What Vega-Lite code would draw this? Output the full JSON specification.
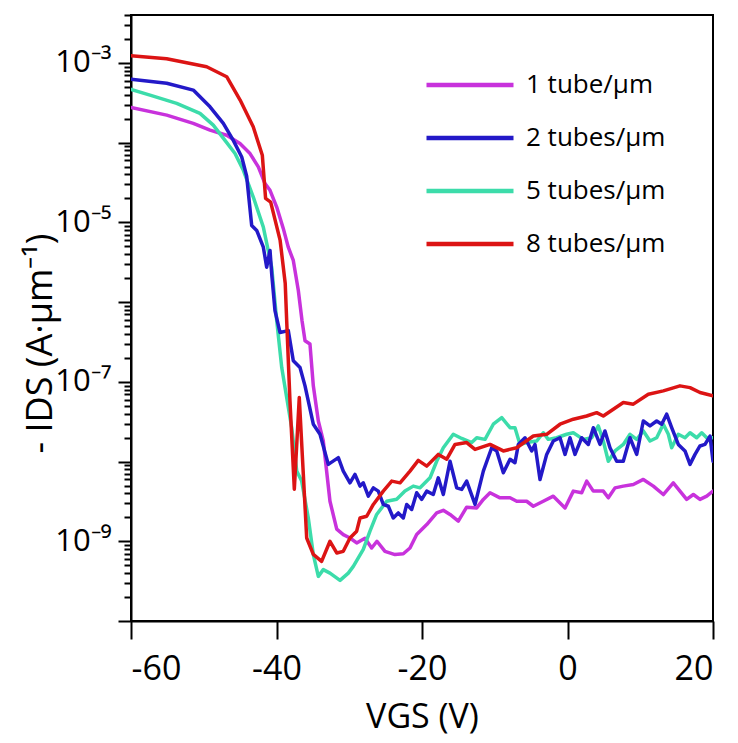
{
  "$schema": "https://vega.github.io/schema/vega-lite/v6.json",
  "autosize": {"type": "none"},
  "padding": {"left": 131, "top": 15, "right": 25, "bottom": 122},
  "width": 582,
  "height": 606,
  "background": "white",
  "config": {
    "font": "Open Sans",
    "view": {"stroke": "black", "strokeWidth": 2},
    "axis": {"grid": false, "domainColor": "black", "domainWidth": 2, "tickColor": "black", "tickWidth": 2, "labelColor": "black", "titleColor": "black", "labelFont": "Open Sans", "titleFont": "Open Sans", "titleFontWeight": "normal"}
  },
  "data": {"values": [
    {"density":"1 tube/μm","vgs":-60,"ids":2.77e-4},
    {"density":"1 tube/μm","vgs":-55.09,"ids":2.22e-4},
    {"density":"1 tube/μm","vgs":-51.44,"ids":1.75e-4},
    {"density":"1 tube/μm","vgs":-49.14,"ids":1.44e-4},
    {"density":"1 tube/μm","vgs":-46.85,"ids":1.24e-4},
    {"density":"1 tube/μm","vgs":-45.02,"ids":9.77e-5},
    {"density":"1 tube/μm","vgs":-43.64,"ids":7.31e-5},
    {"density":"1 tube/μm","vgs":-42.5,"ids":4.97e-5},
    {"density":"1 tube/μm","vgs":-41.58,"ids":3.07e-5},
    {"density":"1 tube/μm","vgs":-40.89,"ids":2.53e-5},
    {"density":"1 tube/μm","vgs":-39.97,"ids":1.56e-5},
    {"density":"1 tube/μm","vgs":-39.07,"ids":8.41e-6},
    {"density":"1 tube/μm","vgs":-38.38,"ids":4.89e-6},
    {"density":"1 tube/μm","vgs":-37.69,"ids":3.33e-6},
    {"density":"1 tube/μm","vgs":-37.0,"ids":1.40e-6},
    {"density":"1 tube/μm","vgs":-36.49,"ids":5.85e-7},
    {"density":"1 tube/μm","vgs":-36.08,"ids":3.28e-7},
    {"density":"1 tube/μm","vgs":-35.4,"ids":2.98e-7},
    {"density":"1 tube/μm","vgs":-34.94,"ids":8.91e-8},
    {"density":"1 tube/μm","vgs":-34.25,"ids":3.23e-8},
    {"density":"1 tube/μm","vgs":-33.57,"ids":1.81e-8},
    {"density":"1 tube/μm","vgs":-32.65,"ids":3.18e-9},
    {"density":"1 tube/μm","vgs":-31.72,"ids":1.42e-9},
    {"density":"1 tube/μm","vgs":-30.82,"ids":1.21e-9},
    {"density":"1 tube/μm","vgs":-29.9,"ids":1.10e-9},
    {"density":"1 tube/μm","vgs":-28.98,"ids":9.53e-10},
    {"density":"1 tube/μm","vgs":-27.84,"ids":1.09e-9},
    {"density":"1 tube/μm","vgs":-26.92,"ids":8.24e-10},
    {"density":"1 tube/μm","vgs":-26.19,"ids":1.0e-9},
    {"density":"1 tube/μm","vgs":-25.09,"ids":7.48e-10},
    {"density":"1 tube/μm","vgs":-23.71,"ids":6.81e-10},
    {"density":"1 tube/μm","vgs":-22.57,"ids":6.97e-10},
    {"density":"1 tube/μm","vgs":-21.65,"ids":8.24e-10},
    {"density":"1 tube/μm","vgs":-20.73,"ids":1.22e-9},
    {"density":"1 tube/μm","vgs":-19.35,"ids":1.62e-9},
    {"density":"1 tube/μm","vgs":-17.98,"ids":2.27e-9},
    {"density":"1 tube/μm","vgs":-17.07,"ids":2.45e-9},
    {"density":"1 tube/μm","vgs":-16.15,"ids":2.17e-9},
    {"density":"1 tube/μm","vgs":-15.01,"ids":1.79e-9},
    {"density":"1 tube/μm","vgs":-13.86,"ids":2.68e-9},
    {"density":"1 tube/μm","vgs":-12.48,"ids":2.62e-9},
    {"density":"1 tube/μm","vgs":-11.57,"ids":3.35e-9},
    {"density":"1 tube/μm","vgs":-10.65,"ids":4.06e-9},
    {"density":"1 tube/μm","vgs":-9.28,"ids":3.51e-9},
    {"density":"1 tube/μm","vgs":-7.9,"ids":3.51e-9},
    {"density":"1 tube/μm","vgs":-6.98,"ids":3.18e-9},
    {"density":"1 tube/μm","vgs":-5.61,"ids":3.18e-9},
    {"density":"1 tube/μm","vgs":-4.7,"ids":2.75e-9},
    {"density":"1 tube/μm","vgs":-3.33,"ids":3.18e-9},
    {"density":"1 tube/μm","vgs":-1.95,"ids":3.68e-9},
    {"density":"1 tube/μm","vgs":-0.34,"ids":2.62e-9},
    {"density":"1 tube/μm","vgs":0.8,"ids":4.26e-9},
    {"density":"1 tube/μm","vgs":1.95,"ids":4.06e-9},
    {"density":"1 tube/μm","vgs":2.64,"ids":5.69e-9},
    {"density":"1 tube/μm","vgs":3.55,"ids":4.26e-9},
    {"density":"1 tube/μm","vgs":4.92,"ids":4.26e-9},
    {"density":"1 tube/μm","vgs":5.61,"ids":3.51e-9},
    {"density":"1 tube/μm","vgs":6.53,"ids":4.68e-9},
    {"density":"1 tube/μm","vgs":7.67,"ids":4.92e-9},
    {"density":"1 tube/μm","vgs":9.05,"ids":5.16e-9},
    {"density":"1 tube/μm","vgs":10.42,"ids":5.97e-9},
    {"density":"1 tube/μm","vgs":11.8,"ids":4.92e-9},
    {"density":"1 tube/μm","vgs":13.17,"ids":3.86e-9},
    {"density":"1 tube/μm","vgs":14.54,"ids":5.41e-9},
    {"density":"1 tube/μm","vgs":15.46,"ids":4.26e-9},
    {"density":"1 tube/μm","vgs":16.38,"ids":3.35e-9},
    {"density":"1 tube/μm","vgs":17.3,"ids":3.86e-9},
    {"density":"1 tube/μm","vgs":18.21,"ids":3.35e-9},
    {"density":"1 tube/μm","vgs":19.14,"ids":3.68e-9},
    {"density":"1 tube/μm","vgs":20,"ids":4.26e-9},

    {"density":"5 tubes/μm","vgs":-60,"ids":4.67e-4},
    {"density":"5 tubes/μm","vgs":-57.39,"ids":3.95e-4},
    {"density":"5 tubes/μm","vgs":-53.72,"ids":3.11e-4},
    {"density":"5 tubes/μm","vgs":-50.52,"ids":2.33e-4},
    {"density":"5 tubes/μm","vgs":-48.69,"ids":1.66e-4},
    {"density":"5 tubes/μm","vgs":-47.08,"ids":1.07e-4},
    {"density":"5 tubes/μm","vgs":-45.7,"ids":7.31e-5},
    {"density":"5 tubes/μm","vgs":-44.56,"ids":4.51e-5},
    {"density":"5 tubes/μm","vgs":-43.19,"ids":2.08e-5},
    {"density":"5 tubes/μm","vgs":-41.81,"ids":8.73e-6},
    {"density":"5 tubes/μm","vgs":-40.66,"ids":2.74e-6},
    {"density":"5 tubes/μm","vgs":-39.97,"ids":5.85e-7},
    {"density":"5 tubes/μm","vgs":-39.28,"ids":1.51e-7},
    {"density":"5 tubes/μm","vgs":-38.6,"ids":6.35e-8},
    {"density":"5 tubes/μm","vgs":-37.91,"ids":2.66e-8},
    {"density":"5 tubes/μm","vgs":-37.22,"ids":7.60e-9},
    {"density":"5 tubes/μm","vgs":-36.54,"ids":5.69e-9},
    {"density":"5 tubes/μm","vgs":-35.63,"ids":1.96e-9},
    {"density":"5 tubes/μm","vgs":-34.94,"ids":6.81e-10},
    {"density":"5 tubes/μm","vgs":-34.25,"ids":3.63e-10},
    {"density":"5 tubes/μm","vgs":-33.57,"ids":4.41e-10},
    {"density":"5 tubes/μm","vgs":-32.65,"ids":3.99e-10},
    {"density":"5 tubes/μm","vgs":-31.27,"ids":3.23e-10},
    {"density":"5 tubes/μm","vgs":-30.13,"ids":3.99e-10},
    {"density":"5 tubes/μm","vgs":-29.44,"ids":4.85e-10},
    {"density":"5 tubes/μm","vgs":-28.07,"ids":7.93e-10},
    {"density":"5 tubes/μm","vgs":-27.15,"ids":1.34e-9},
    {"density":"5 tubes/μm","vgs":-26.23,"ids":2.17e-9},
    {"density":"5 tubes/μm","vgs":-24.85,"ids":3.18e-9},
    {"density":"5 tubes/μm","vgs":-23.48,"ids":3.37e-9},
    {"density":"5 tubes/μm","vgs":-22.34,"ids":4.26e-9},
    {"density":"5 tubes/μm","vgs":-21.2,"ids":4.92e-9},
    {"density":"5 tubes/μm","vgs":-20.27,"ids":4.68e-9},
    {"density":"5 tubes/μm","vgs":-18.9,"ids":6.25e-9},
    {"density":"5 tubes/μm","vgs":-17.98,"ids":1.01e-8},
    {"density":"5 tubes/μm","vgs":-17.07,"ids":1.49e-8},
    {"density":"5 tubes/μm","vgs":-15.7,"ids":2.20e-8},
    {"density":"5 tubes/μm","vgs":-14.54,"ids":1.95e-8},
    {"density":"5 tubes/μm","vgs":-13.17,"ids":1.73e-8},
    {"density":"5 tubes/μm","vgs":-12.48,"ids":1.99e-8},
    {"density":"5 tubes/μm","vgs":-11.34,"ids":1.90e-8},
    {"density":"5 tubes/μm","vgs":-10.2,"ids":2.94e-8},
    {"density":"5 tubes/μm","vgs":-9.04,"ids":3.56e-8},
    {"density":"5 tubes/μm","vgs":-7.9,"ids":2.66e-8},
    {"density":"5 tubes/μm","vgs":-7.22,"ids":2.66e-8},
    {"density":"5 tubes/μm","vgs":-6.53,"ids":1.64e-8},
    {"density":"5 tubes/μm","vgs":-5.61,"ids":1.73e-8},
    {"density":"5 tubes/μm","vgs":-4.23,"ids":1.81e-8},
    {"density":"5 tubes/μm","vgs":-3.33,"ids":2.30e-8},
    {"density":"5 tubes/μm","vgs":-2.64,"ids":1.90e-8},
    {"density":"5 tubes/μm","vgs":-1.49,"ids":1.99e-8},
    {"density":"5 tubes/μm","vgs":-0.11,"ids":2.20e-8},
    {"density":"5 tubes/μm","vgs":0.8,"ids":2.30e-8},
    {"density":"5 tubes/μm","vgs":2.17,"ids":1.90e-8},
    {"density":"5 tubes/μm","vgs":3.33,"ids":1.99e-8},
    {"density":"5 tubes/μm","vgs":4.24,"ids":2.80e-8},
    {"density":"5 tubes/μm","vgs":4.92,"ids":1.81e-8},
    {"density":"5 tubes/μm","vgs":5.61,"ids":1.01e-8},
    {"density":"5 tubes/μm","vgs":6.53,"ids":1.36e-8},
    {"density":"5 tubes/μm","vgs":7.67,"ids":1.64e-8},
    {"density":"5 tubes/μm","vgs":8.59,"ids":2.20e-8},
    {"density":"5 tubes/μm","vgs":9.51,"ids":1.90e-8},
    {"density":"5 tubes/μm","vgs":10.42,"ids":2.42e-8},
    {"density":"5 tubes/μm","vgs":11.34,"ids":1.81e-8},
    {"density":"5 tubes/μm","vgs":12.26,"ids":1.99e-8},
    {"density":"5 tubes/μm","vgs":13.17,"ids":2.94e-8},
    {"density":"5 tubes/μm","vgs":13.86,"ids":2.20e-8},
    {"density":"5 tubes/μm","vgs":14.32,"ids":1.49e-8},
    {"density":"5 tubes/μm","vgs":15.23,"ids":2.20e-8},
    {"density":"5 tubes/μm","vgs":16.15,"ids":1.99e-8},
    {"density":"5 tubes/μm","vgs":16.84,"ids":2.30e-8},
    {"density":"5 tubes/μm","vgs":17.76,"ids":1.99e-8},
    {"density":"5 tubes/μm","vgs":18.45,"ids":2.30e-8},
    {"density":"5 tubes/μm","vgs":19.14,"ids":1.99e-8},
    {"density":"5 tubes/μm","vgs":20,"ids":1.99e-8},

    {"density":"2 tubes/μm","vgs":-60,"ids":6.24e-4},
    {"density":"2 tubes/μm","vgs":-55.09,"ids":5.56e-4},
    {"density":"2 tubes/μm","vgs":-51.44,"ids":4.57e-4},
    {"density":"2 tubes/μm","vgs":-49.14,"ids":2.82e-4},
    {"density":"2 tubes/μm","vgs":-47.31,"ids":1.75e-4},
    {"density":"2 tubes/μm","vgs":-45.94,"ids":1.07e-4},
    {"density":"2 tubes/μm","vgs":-44.78,"ids":6.62e-5},
    {"density":"2 tubes/μm","vgs":-44.1,"ids":3.79e-5},
    {"density":"2 tubes/μm","vgs":-43.41,"ids":9.16e-6},
    {"density":"2 tubes/μm","vgs":-42.72,"ids":7.93e-6},
    {"density":"2 tubes/μm","vgs":-41.81,"ids":4.89e-6},
    {"density":"2 tubes/μm","vgs":-41.35,"ids":2.74e-6},
    {"density":"2 tubes/μm","vgs":-40.89,"ids":4.45e-6},
    {"density":"2 tubes/μm","vgs":-40.66,"ids":2.26e-6},
    {"density":"2 tubes/μm","vgs":-40.21,"ids":7.82e-7},
    {"density":"2 tubes/μm","vgs":-39.52,"ids":4.17e-7},
    {"density":"2 tubes/μm","vgs":-38.38,"ids":4.39e-7},
    {"density":"2 tubes/μm","vgs":-37.69,"ids":1.84e-7},
    {"density":"2 tubes/μm","vgs":-36.77,"ids":1.51e-7},
    {"density":"2 tubes/μm","vgs":-36.08,"ids":8.91e-8},
    {"density":"2 tubes/μm","vgs":-34.94,"ids":2.94e-8},
    {"density":"2 tubes/μm","vgs":-34.02,"ids":2.20e-8},
    {"density":"2 tubes/μm","vgs":-32.88,"ids":9.23e-9},
    {"density":"2 tubes/μm","vgs":-31.5,"ids":1.12e-8},
    {"density":"2 tubes/μm","vgs":-30.82,"ids":7.60e-9},
    {"density":"2 tubes/μm","vgs":-29.9,"ids":5.41e-9},
    {"density":"2 tubes/μm","vgs":-29.21,"ids":6.90e-9},
    {"density":"2 tubes/μm","vgs":-28.52,"ids":4.92e-9},
    {"density":"2 tubes/μm","vgs":-28.07,"ids":5.41e-9},
    {"density":"2 tubes/μm","vgs":-27.38,"ids":3.68e-9},
    {"density":"2 tubes/μm","vgs":-26.69,"ids":4.68e-9},
    {"density":"2 tubes/μm","vgs":-26.01,"ids":4.26e-9},
    {"density":"2 tubes/μm","vgs":-25.32,"ids":2.90e-9},
    {"density":"2 tubes/μm","vgs":-24.63,"ids":2.75e-9},
    {"density":"2 tubes/μm","vgs":-23.95,"ids":1.96e-9},
    {"density":"2 tubes/μm","vgs":-23.26,"ids":2.27e-9},
    {"density":"2 tubes/μm","vgs":-22.57,"ids":1.96e-9},
    {"density":"2 tubes/μm","vgs":-22.1,"ids":2.90e-9},
    {"density":"2 tubes/μm","vgs":-21.42,"ids":2.51e-9},
    {"density":"2 tubes/μm","vgs":-20.73,"ids":4.06e-9},
    {"density":"2 tubes/μm","vgs":-20.04,"ids":3.35e-9},
    {"density":"2 tubes/μm","vgs":-19.35,"ids":4.26e-9},
    {"density":"2 tubes/μm","vgs":-18.45,"ids":3.86e-9},
    {"density":"2 tubes/μm","vgs":-17.76,"ids":6.25e-9},
    {"density":"2 tubes/μm","vgs":-17.07,"ids":3.86e-9},
    {"density":"2 tubes/μm","vgs":-16.15,"ids":1.01e-8},
    {"density":"2 tubes/μm","vgs":-15.23,"ids":4.68e-9},
    {"density":"2 tubes/μm","vgs":-14.54,"ids":4.47e-9},
    {"density":"2 tubes/μm","vgs":-13.86,"ids":5.69e-9},
    {"density":"2 tubes/μm","vgs":-12.71,"ids":2.90e-9},
    {"density":"2 tubes/μm","vgs":-11.57,"ids":7.60e-9},
    {"density":"2 tubes/μm","vgs":-10.42,"ids":1.49e-8},
    {"density":"2 tubes/μm","vgs":-9.73,"ids":1.36e-8},
    {"density":"2 tubes/μm","vgs":-8.82,"ids":7.23e-9},
    {"density":"2 tubes/μm","vgs":-7.9,"ids":1.07e-8},
    {"density":"2 tubes/μm","vgs":-7.22,"ids":9.66e-9},
    {"density":"2 tubes/μm","vgs":-6.76,"ids":1.64e-8},
    {"density":"2 tubes/μm","vgs":-5.84,"ids":1.99e-8},
    {"density":"2 tubes/μm","vgs":-4.92,"ids":1.36e-8},
    {"density":"2 tubes/μm","vgs":-4.47,"ids":1.64e-8},
    {"density":"2 tubes/μm","vgs":-3.78,"ids":5.97e-9},
    {"density":"2 tubes/μm","vgs":-2.86,"ids":1.23e-8},
    {"density":"2 tubes/μm","vgs":-1.95,"ids":1.81e-8},
    {"density":"2 tubes/μm","vgs":-1.03,"ids":1.99e-8},
    {"density":"2 tubes/μm","vgs":-0.34,"ids":1.23e-8},
    {"density":"2 tubes/μm","vgs":0.34,"ids":1.99e-8},
    {"density":"2 tubes/μm","vgs":1.03,"ids":1.23e-8},
    {"density":"2 tubes/μm","vgs":1.95,"ids":1.99e-8},
    {"density":"2 tubes/μm","vgs":2.86,"ids":1.64e-8},
    {"density":"2 tubes/μm","vgs":3.55,"ids":2.66e-8},
    {"density":"2 tubes/μm","vgs":4.47,"ids":1.64e-8},
    {"density":"2 tubes/μm","vgs":5.15,"ids":2.42e-8},
    {"density":"2 tubes/μm","vgs":5.84,"ids":1.49e-8},
    {"density":"2 tubes/μm","vgs":6.76,"ids":1.01e-8},
    {"density":"2 tubes/μm","vgs":7.67,"ids":1.01e-8},
    {"density":"2 tubes/μm","vgs":8.59,"ids":1.99e-8},
    {"density":"2 tubes/μm","vgs":9.51,"ids":1.23e-8},
    {"density":"2 tubes/μm","vgs":10.42,"ids":3.23e-8},
    {"density":"2 tubes/μm","vgs":11.34,"ids":2.80e-8},
    {"density":"2 tubes/μm","vgs":12.26,"ids":3.23e-8},
    {"density":"2 tubes/μm","vgs":12.95,"ids":2.94e-8},
    {"density":"2 tubes/μm","vgs":13.63,"ids":3.93e-8},
    {"density":"2 tubes/μm","vgs":14.32,"ids":2.66e-8},
    {"density":"2 tubes/μm","vgs":15.23,"ids":1.64e-8},
    {"density":"2 tubes/μm","vgs":16.15,"ids":1.36e-8},
    {"density":"2 tubes/μm","vgs":16.84,"ids":9.23e-9},
    {"density":"2 tubes/μm","vgs":17.53,"ids":1.23e-8},
    {"density":"2 tubes/μm","vgs":18.21,"ids":1.57e-8},
    {"density":"2 tubes/μm","vgs":18.9,"ids":1.64e-8},
    {"density":"2 tubes/μm","vgs":19.59,"ids":2.09e-8},
    {"density":"2 tubes/μm","vgs":20,"ids":1.01e-8},

    {"density":"8 tubes/μm","vgs":-60,"ids":1.236e-3},
    {"density":"8 tubes/μm","vgs":-55.1,"ids":1.132e-3},
    {"density":"8 tubes/μm","vgs":-49.6,"ids":8.97e-4},
    {"density":"8 tubes/μm","vgs":-46.85,"ids":6.73e-4},
    {"density":"8 tubes/μm","vgs":-45.0,"ids":3.43e-4},
    {"density":"8 tubes/μm","vgs":-43.2,"ids":1.585e-4},
    {"density":"8 tubes/μm","vgs":-41.95,"ids":6.97e-5},
    {"density":"8 tubes/μm","vgs":-41.5,"ids":2.0e-5},
    {"density":"8 tubes/μm","vgs":-40.8,"ids":1.80e-5},
    {"density":"8 tubes/μm","vgs":-39.5,"ids":5.94e-6},
    {"density":"8 tubes/μm","vgs":-38.8,"ids":1.71e-6},
    {"density":"8 tubes/μm","vgs":-38.6,"ids":5.85e-7},
    {"density":"8 tubes/μm","vgs":-38.15,"ids":5.77e-8},
    {"density":"8 tubes/μm","vgs":-37.55,"ids":4.51e-9},
    {"density":"8 tubes/μm","vgs":-36.87,"ids":6.35e-8},
    {"density":"8 tubes/μm","vgs":-35.85,"ids":1.10e-9},
    {"density":"8 tubes/μm","vgs":-34.94,"ids":6.85e-10},
    {"density":"8 tubes/μm","vgs":-33.8,"ids":5.60e-10},
    {"density":"8 tubes/μm","vgs":-32.65,"ids":1.0e-9},
    {"density":"8 tubes/μm","vgs":-31.72,"ids":7.13e-10},
    {"density":"8 tubes/μm","vgs":-30.82,"ids":7.48e-10},
    {"density":"8 tubes/μm","vgs":-29.9,"ids":1.10e-9},
    {"density":"8 tubes/μm","vgs":-28.98,"ids":1.34e-9},
    {"density":"8 tubes/μm","vgs":-28.52,"ids":1.96e-9},
    {"density":"8 tubes/μm","vgs":-27.6,"ids":2.06e-9},
    {"density":"8 tubes/μm","vgs":-26.69,"ids":2.90e-9},
    {"density":"8 tubes/μm","vgs":-25.32,"ids":4.26e-9},
    {"density":"8 tubes/μm","vgs":-24.16,"ids":5.69e-9},
    {"density":"8 tubes/μm","vgs":-23.02,"ids":5.41e-9},
    {"density":"8 tubes/μm","vgs":-21.65,"ids":7.59e-9},
    {"density":"8 tubes/μm","vgs":-20.51,"ids":1.035e-8},
    {"density":"8 tubes/μm","vgs":-19.35,"ids":8.77e-9},
    {"density":"8 tubes/μm","vgs":-17.76,"ids":1.23e-8},
    {"density":"8 tubes/μm","vgs":-16.6,"ids":1.07e-8},
    {"density":"8 tubes/μm","vgs":-15.46,"ids":1.64e-8},
    {"density":"8 tubes/μm","vgs":-13.86,"ids":1.73e-8},
    {"density":"8 tubes/μm","vgs":-12.71,"ids":1.42e-8},
    {"density":"8 tubes/μm","vgs":-10.65,"ids":1.64e-8},
    {"density":"8 tubes/μm","vgs":-8.82,"ids":1.36e-8},
    {"density":"8 tubes/μm","vgs":-6.98,"ids":1.49e-8},
    {"density":"8 tubes/μm","vgs":-4.7,"ids":2.09e-8},
    {"density":"8 tubes/μm","vgs":-2.86,"ids":2.20e-8},
    {"density":"8 tubes/μm","vgs":-1.03,"ids":2.94e-8},
    {"density":"8 tubes/μm","vgs":0.8,"ids":3.40e-8},
    {"density":"8 tubes/μm","vgs":2.64,"ids":3.73e-8},
    {"density":"8 tubes/μm","vgs":4.01,"ids":4.11e-8},
    {"density":"8 tubes/μm","vgs":4.92,"ids":3.73e-8},
    {"density":"8 tubes/μm","vgs":6.3,"ids":4.54e-8},
    {"density":"8 tubes/μm","vgs":7.67,"ids":5.50e-8},
    {"density":"8 tubes/μm","vgs":9.05,"ids":5.25e-8},
    {"density":"8 tubes/μm","vgs":11.11,"ids":7.00e-8},
    {"density":"8 tubes/μm","vgs":13.17,"ids":7.71e-8},
    {"density":"8 tubes/μm","vgs":15.46,"ids":8.91e-8},
    {"density":"8 tubes/μm","vgs":16.84,"ids":8.47e-8},
    {"density":"8 tubes/μm","vgs":18.21,"ids":7.35e-8},
    {"density":"8 tubes/μm","vgs":20,"ids":6.67e-8}
  ]},
  "mark": {"type": "line", "strokeWidth": 3.5, "strokeJoin": "round", "strokeCap": "round", "clip": true},
  "encoding": {
    "x": {
      "field": "vgs", "type": "quantitative",
      "scale": {"domain": [-60, 20], "nice": false, "zero": false},
      "axis": {
        "values": [-60, -40, -20, 0, 20],
        "labelExpr": "'' + datum.value",
        "tickSize": 18, "labelFontSize": 34, "labelPadding": 13,
        "title": "VGS (V)", "titleFontSize": 34, "titlePadding": 14
      }
    },
    "y": {
      "field": "ids", "type": "quantitative",
      "scale": {"type": "log", "domain": [1e-10, 4e-3], "nice": false},
      "axis": {
        "values": [1e-10,2e-10,3e-10,4e-10,5e-10,6e-10,7e-10,8e-10,9e-10,
                   1e-9,2e-9,3e-9,4e-9,5e-9,6e-9,7e-9,8e-9,9e-9,
                   1e-8,2e-8,3e-8,4e-8,5e-8,6e-8,7e-8,8e-8,9e-8,
                   1e-7,2e-7,3e-7,4e-7,5e-7,6e-7,7e-7,8e-7,9e-7,
                   1e-6,2e-6,3e-6,4e-6,5e-6,6e-6,7e-6,8e-6,9e-6,
                   1e-5,2e-5,3e-5,4e-5,5e-5,6e-5,7e-5,8e-5,9e-5,
                   1e-4,2e-4,3e-4,4e-4,5e-4,6e-4,7e-4,8e-4,9e-4,
                   1e-3,2e-3,3e-3,4e-3],
        "labelExpr": "abs(datum.value/1e-3-1)<1e-6 ? '10⁻³' : abs(datum.value/1e-5-1)<1e-6 ? '10⁻⁵' : abs(datum.value/1e-7-1)<1e-6 ? '10⁻⁷' : abs(datum.value/1e-9-1)<1e-6 ? '10⁻⁹' : ''",
        "tickSize": {"condition": {"test": "abs(log(datum.value)/LN10 - round(log(datum.value)/LN10)) < 0.001", "value": 13}, "value": 7},
        "labelFontSize": 31, "labelPadding": 7, "labelOverlap": false, "labelBound": false, "labelFlush": false,
        "title": "- IDS (A·μm⁻¹)", "titleFontSize": 36, "titleX": -72, "titleY": 328
      }
    },
    "color": {
      "field": "density", "type": "nominal",
      "scale": {"domain": ["1 tube/μm", "2 tubes/μm", "5 tubes/μm", "8 tubes/μm"], "range": ["#c832dc", "#2319c8", "#3cdcaa", "#dc1414"]},
      "legend": {
        "orient": "none", "legendX": 299, "legendY": 30, "title": null,
        "symbolType": "M-1.16,0H1.16", "symbolStrokeWidth": 4.5, "symbolSize": 5625,
        "labelFontSize": 26, "labelFont": "Open Sans", "labelColor": "black", "labelOffset": 16,
        "rowPadding": 0
      }
    }
  }
}
